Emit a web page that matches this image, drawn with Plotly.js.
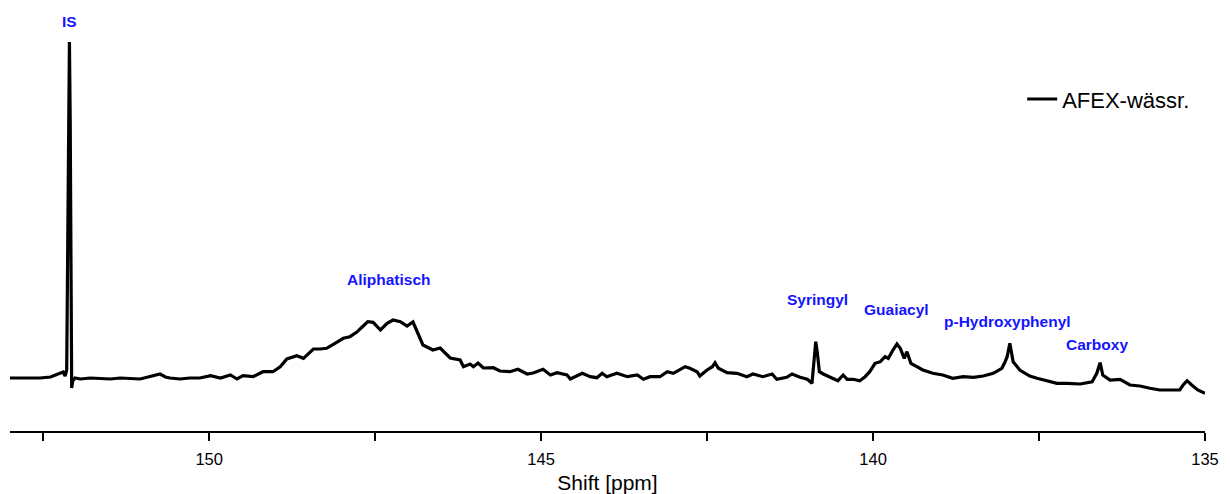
<!DOCTYPE html>
<html>
<head>
<meta charset="utf-8">
<script src="https://cdn.plot.ly/plotly-3.0.1.min.js"></script>
<style>html,body{margin:0;padding:0;background:#fff;}#chart{width:1230px;height:494px;}</style>
</head>
<body>
<div id="chart"></div>
<script>
// 31P NMR spectrum, chemical shift (ppm) and intensity (a.u.)
const shiftPpm = [
153.00,152.85,152.70,152.55,152.39,152.32,152.24,152.20,152.17,
152.146,152.131,152.116,152.105,152.093,152.081,152.071,152.056,
152.02,151.94,151.79,151.64,151.49,151.34,151.19,151.04,150.92,150.81,150.74,150.66,150.59,150.44,150.29,150.14,
149.98,149.83,149.68,149.58,149.49,149.34,149.19,149.04,148.93,148.83,148.68,148.58,148.43,148.33,148.23,148.08,147.98,147.88,147.78,147.68,147.61,147.53,147.42,147.32,147.23,147.12,
147.02,146.93,146.85,146.78,146.63,146.52,146.37,146.22,146.17,146.07,146.02,145.95,145.87,145.72,145.62,145.47,145.35,145.21,145.12,144.97,144.86,144.76,144.61,144.56,144.38,144.26,144.16,144.08,
144.01,143.86,143.70,143.55,143.46,143.36,143.21,143.10,143.01,142.91,142.83,142.76,142.65,142.61,142.50,142.42,142.38,142.33,142.20,142.05,141.90,141.81,141.66,141.52,141.45,141.30,141.22,141.10,
140.99,140.92,140.889,140.863,140.839,140.809,140.75,140.68,140.60,140.53,140.45,140.39,140.30,140.20,140.12,140.05,139.97,139.89,139.82,139.77,139.70,139.64,139.59,139.53,139.49,139.43,139.34,139.25,139.10,138.95,138.80,138.64,138.49,138.34,138.19,138.06,138.01,137.98,137.94,137.89,137.79,137.64,137.53,137.38,137.23,137.08,
136.88,136.70,136.63,136.58,136.54,136.43,136.28,136.13,135.98,135.83,135.68,135.53,135.38,135.33,135.27,135.20,135.11,135.00
];
const intensity = [
0,0,0.5,0,1,3,5,6,2,
8,128,278,336,258,78,-10,-3,
0,-1,0,-0.5,-1,0,-0.5,-1,1,3,4,1,0,-1,0,0,
2.3,0,3,-1,2.3,1.3,6.3,6.3,11.3,19,22.3,19.7,29,29,29.7,35.7,39.7,41.3,45.7,52,56.3,55.7,48,54.7,58,56.3,
52,56,43,33,28,30,20,18,11.3,14,11.3,15,10,10.3,7,6.3,8.7,4,5,8.7,3,5.3,3,-1,4.7,1.3,0.3,4.7,
1.3,4.7,1.3,3,-1.3,1.3,1.3,6.3,4.7,8,11.3,9.7,6.3,2,8,11.3,15.3,9.7,5.3,4.7,1.3,4,1.3,4,-1.3,0.7,4,0.7,
-1.3,-5.3,18,36.3,25,6.3,4,2,-0.3,-2.7,3,-1.3,-1.3,-2.7,1.3,6.3,14.7,16.3,21.3,19.7,28,34,29.7,19.7,26.3,14.7,11.3,8,4.7,3,-0.3,1.3,0.7,2,4.7,9.7,16.3,21.3,34.7,16.3,8,2,-0.3,-2.7,-5.3,-5.3,
-6,-3.7,4.7,15.3,3,-2,-1.3,-7,-8,-10.3,-12,-12,-12,-7,-2.7,-7,-12,-15.3
];
const seriesName = "AFEX-wässr.";
const xTickVals = [150, 145, 140, 135];
const xTickText = ["150", "145", "140", "135"];
const peakLabels = ["IS", "Aliphatisch", "Syringyl", "Guaiacyl", "p-Hydroxyphenyl", "Carboxy"];
const peakLabelPpm = [152.11, 147.29, 140.84, 139.64, 137.97, 136.63];
const peakLabelIntensity = [357, 98.5, 79, 69, 57, 34];

const FONT = "Arial, 'Liberation Sans', sans-serif";

const trace = {
  x: shiftPpm, y: intensity, type: "scatter", mode: "lines",
  name: seriesName,
  line: {color: "#000000", width: 3.2}
};

const annotations = peakLabels.map((t, i) => ({
  x: peakLabelPpm[i], y: peakLabelIntensity[i], xref: "x", yref: "y",
  text: "<b>" + t + "</b>", showarrow: false,
  font: {family: FONT, size: 15.5, color: "#1414ff"},
  xanchor: "center", yanchor: "middle"
}));

const layout = {
  width: 1230, height: 494,
  margin: {l: 10, r: 25, t: 10, b: 63},
  paper_bgcolor: "#ffffff", plot_bgcolor: "#ffffff",
  font: {family: FONT, color: "#000000"},
  showlegend: true,
  legend: {
    x: 0.847, y: 0.838, xanchor: "left", yanchor: "top",
    bgcolor: "rgba(0,0,0,0)", borderwidth: 0,
    font: {family: FONT, size: 22, color: "#000000"}
  },
  xaxis: {
    range: [153, 135],
    tickmode: "array", tickvals: xTickVals, ticktext: xTickText,
    ticks: "outside", ticklen: 8, tickwidth: 1.5, tickcolor: "#000000",
    ticklabelstandoff: 5,
    minor: {tickmode: "linear", tick0: 135, dtick: 2.5, ticks: "outside", ticklen: 8, tickwidth: 1.5, tickcolor: "#000000"},
    showline: true, linecolor: "#000000", linewidth: 1.5,
    showgrid: false, zeroline: false,
    tickfont: {family: FONT, size: 16.5, color: "#000000"},
    title: {text: "Shift [ppm]", font: {family: FONT, size: 21, color: "#000000"}, standoff: 12}
  },
  yaxis: {
    range: [-53, 368], visible: false, showgrid: false, zeroline: false, fixedrange: true
  },
  annotations: annotations
};

Plotly.newPlot("chart", [trace], layout, {displayModeBar: false, staticPlot: true});
</script>
</body>
</html>
